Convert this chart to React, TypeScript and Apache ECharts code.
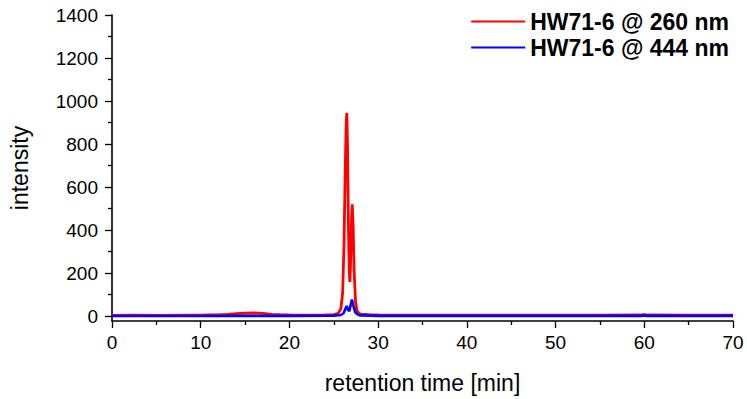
import React, { useEffect, useRef } from "react";
import * as echarts from "echarts";

const seriesNames = ["HW71-6 @ 260 nm", "HW71-6 @ 444 nm"];
const seriesColors = ["#ff0000", "#0000ff"];

// [retention time (min), intensity]
const red260: [number, number][] = [
  [0, 4], [2, 5], [3, 5], [5, 4], [8, 5], [10, 5], [12, 7], [13, 9], [14, 12], [15, 15],
  [16, 16], [17, 13], [18, 9], [19, 7], [20, 6], [22, 5], [24, 6], [25, 8], [25.5, 14],
  [25.8, 35], [26.0, 110], [26.15, 330], [26.3, 700], [26.4, 900], [26.47, 945],
  [26.55, 790], [26.65, 420], [26.75, 200], [26.82, 160], [26.9, 260], [27.0, 450],
  [27.08, 520], [27.18, 420], [27.3, 200], [27.45, 70], [27.6, 28], [27.8, 14], [28, 10],
  [29, 7], [30, 6], [35, 5], [40, 5], [45, 5], [50, 5], [55, 5], [60, 6], [65, 5], [70, 5],
];

const blue444: [number, number][] = [
  [0, 1], [5, 1], [10, 1], [15, 2], [20, 2], [25, 3], [25.8, 6], [26.1, 14], [26.3, 34],
  [26.45, 48], [26.6, 30], [26.75, 24], [26.9, 52], [27.05, 78], [27.2, 50], [27.4, 20],
  [27.7, 8], [28, 4], [30, 2], [40, 2], [50, 2], [59.8, 2], [60, 8], [60.2, 2], [70, 2],
];

const xTicks = [0, 10, 20, 30, 40, 50, 60, 70];
const yMajorTicks = [0, 200, 400, 600, 800, 1000, 1200, 1400];
const yMinorTicks = [100, 300, 500, 700, 900, 1100, 1300];

export default function App() {
  const ref = useRef<HTMLDivElement>(null);
  useEffect(() => {
    if (!ref.current) return;
    const chart = echarts.init(ref.current, undefined, { renderer: "svg" });
    const font = "'Liberation Sans', Arial, sans-serif";
    const yCommon = {
      type: "value" as const,
      min: -22,
      max: 1400,
      splitLine: { show: false },
    };
    chart.setOption({
      animation: false,
      grid: { left: 111, right: 14, top: 15, bottom: 78 },
      legend: {
        orient: "vertical",
        right: 13,
        top: 5,
        itemWidth: 54,
        itemHeight: 23,
        itemGap: 3,
        icon: "path://M0,0 L54,0 L54,2 L0,2 Z",
        textStyle: { fontFamily: font, fontSize: 23, fontWeight: "bold", color: "#000" },
        data: seriesNames.map((n, i) => ({ name: n, itemStyle: { color: seriesColors[i] } })),
      },
      xAxis: {
        type: "value",
        min: xTicks[0],
        max: xTicks[xTicks.length - 1],
        interval: 10,
        name: "retention time [min]",
        nameLocation: "middle",
        nameGap: 50,
        nameTextStyle: { fontFamily: font, fontSize: 23, color: "#000" },
        axisLine: { onZero: false, lineStyle: { color: "#000", width: 1.6 } },
        axisTick: { inside: false, length: 7, lineStyle: { color: "#000", width: 1.3 } },
        minorTick: { show: true, splitNumber: 2, length: 4, lineStyle: { color: "#000", width: 1.3 } },
        axisLabel: { fontFamily: font, fontSize: 19, color: "#000", margin: 12, formatter: (v: number) => String(v) },
        splitLine: { show: false },
      },
      yAxis: [
        {
          ...yCommon,
          name: "intensity",
          nameLocation: "middle",
          nameGap: 81,
          nameTextStyle: { fontFamily: font, fontSize: 23, color: "#000" },
          axisLine: { show: true, lineStyle: { color: "#000", width: 1.6 } },
          axisTick: { show: true, inside: false, length: 7, customValues: yMajorTicks, lineStyle: { color: "#000", width: 1.3 } },
          axisLabel: { fontFamily: font, fontSize: 19, color: "#000", margin: 14, customValues: yMajorTicks, formatter: (v: number) => String(v) },
        },
        {
          ...yCommon,
          position: "left",
          axisLine: { show: false },
          axisTick: { show: true, inside: false, length: 4, customValues: yMinorTicks, lineStyle: { color: "#000", width: 1.3 } },
          axisLabel: { show: false },
        },
      ],
      series: [
        {
          name: seriesNames[0],
          type: "line",
          data: red260,
          showSymbol: false,
          symbol: "none",
          yAxisIndex: 0,
          lineStyle: { color: seriesColors[0], width: 2.8 },
          itemStyle: { color: seriesColors[0] },
        },
        {
          name: seriesNames[1],
          type: "line",
          data: blue444,
          showSymbol: false,
          symbol: "none",
          yAxisIndex: 0,
          lineStyle: { color: seriesColors[1], width: 2.6 },
          itemStyle: { color: seriesColors[1] },
        },
      ],
    });
    return () => chart.dispose();
  }, []);
  return <div ref={ref} style={{ width: 747, height: 399, position: "absolute", left: 0, top: 0 }} />;
}
